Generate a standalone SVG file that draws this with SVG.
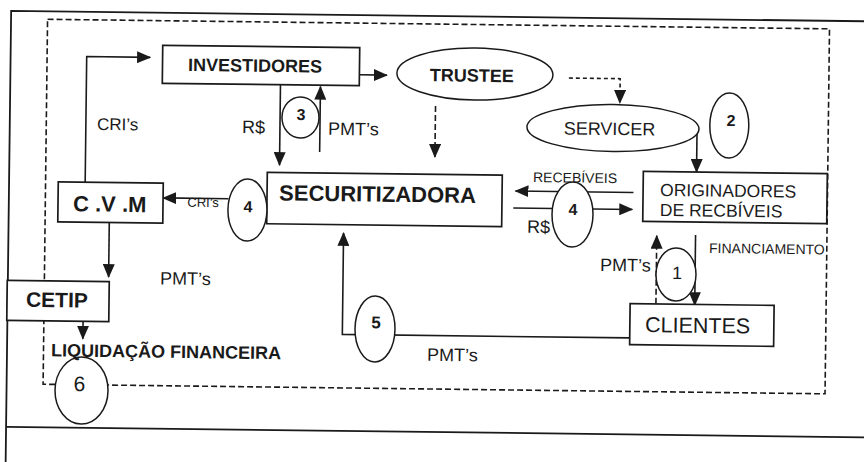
<svg xmlns="http://www.w3.org/2000/svg" width="864" height="462" viewBox="0 0 864 462">
<style>
text{font-family:"Liberation Sans",Arial,sans-serif;fill:#1a1a1a}
.b{font-weight:bold}
.box{fill:#fff;stroke:#1a1a1a;stroke-width:1.7}
.ell{fill:#fff;stroke:#1a1a1a;stroke-width:1.5}
.ln{fill:none;stroke:#1a1a1a;stroke-width:1.6}
.dash{fill:none;stroke:#1a1a1a;stroke-width:1.6;stroke-dasharray:6 3}
.dsh2{fill:none;stroke:#1a1a1a;stroke-width:1.6;stroke-dasharray:4 3}
.frame{fill:none;stroke:#1a1a1a;stroke-width:1.8}
.arr{marker-end:url(#ah)}
.c{text-anchor:middle}
</style>
<defs>
<marker id="ah" viewBox="0 0 14 12" refX="13" refY="6" markerWidth="14" markerHeight="12" markerUnits="userSpaceOnUse" orient="auto"><path d="M0,0 L14,6 L0,12 z" fill="#1a1a1a"/></marker>
</defs>
<rect x="0" y="0" width="864" height="462" fill="#fff"/>
<g transform="rotate(0.7 432 231)">
<g id="frame">
<path class="frame" d="M890,16 H8.5 V470"/>
<path class="frame" d="M8.5,432 H890"/>
<rect class="dash" x="45" y="24" width="782" height="365"/>
</g>
<g id="connectors">
<path class="ln arr" d="M357.5,75.7 H385"/>
<path class="dash arr" d="M434,106 V157"/>
<path class="dsh2 arr" d="M567,76.4 H618.3 V100.7"/>
<path class="ln arr" d="M695.8,128.8 V168.8"/>
<path class="ln arr" d="M278.7,86.6 V167"/>
<path class="ln arr" d="M318.7,153.4 V88"/>
<path class="ln arr" d="M84.6,186.4 V60.8 H148"/>
<path class="ln arr" d="M228,201.2 H162.7"/>
<path class="ln arr" d="M633,190 H515"/>
<path class="ln arr" d="M513,207 H632"/>
<path class="ln arr" d="M109.2,226.4 V281"/>
<path class="ln arr" d="M84.2,325.6 V343"/>
<path class="ln arr" d="M631,335.5 H343.6 V234"/>
<path class="ln arr" d="M695.6,231.8 V302"/>
<path class="dash arr" d="M656.8,301 V233"/>
</g>
<g id="investidores"><rect class="box" x="160.5" y="48.6" width="197" height="38"/><text class="b c" x="253" y="73.9" font-size="18">INVESTIDORES</text></g>
<g id="trustee"><ellipse class="ell" cx="473" cy="73.5" rx="78" ry="26"/><text class="b c" x="470" y="81.2" font-size="18">TRUSTEE</text></g>
<g id="servicer"><ellipse class="ell" cx="611.7" cy="125.8" rx="86" ry="23.5"/><text class="c" x="608.3" y="132.8" font-size="18">SERVICER</text></g>
<g id="securitizadora"><rect class="box" x="266.6" y="174.3" width="235" height="51.5"/><text class="b c" x="377.1" y="202.3" font-size="22">SECURITIZADORA</text></g>
<g id="cvm"><rect class="box" x="57.7" y="186.4" width="105" height="40"/><text class="b" x="72.8" y="215.6" font-size="22">C .V .M</text></g>
<g id="originadores"><rect class="box" x="642.6" y="168.8" width="184" height="50"/><text x="659.6" y="193.1" font-size="17.5">ORIGINADORES</text><text x="659.6" y="213.1" font-size="17.5">DE RECBÍVEIS</text></g>
<g id="cetip"><rect class="box" x="7.9" y="285.6" width="102" height="40"/><text class="b" x="26.9" y="311.8" font-size="21">CETIP</text></g>
<g id="clientes"><rect class="box" x="631" y="301.2" width="144" height="41"/><text x="646.2" y="329.5" font-size="21.5">CLIENTES</text></g>
<g id="n1"><ellipse class="ell" cx="676.5" cy="271.5" rx="20" ry="26.5"/><text class="c" x="677.6" y="276.2" font-size="18">1</text></g>
<g id="n2"><ellipse class="ell" cx="728" cy="121.9" rx="19.5" ry="32.5"/><text class="b c" x="729.7" y="122.4" font-size="16">2</text></g>
<g id="n3"><ellipse class="ell" cx="299.1" cy="119.1" rx="18.5" ry="20.5"/><text class="b c" x="299.6" y="121.6" font-size="16">3</text></g>
<g id="n4a"><ellipse class="ell" cx="247.2" cy="212.3" rx="19.5" ry="31"/><text class="b c" x="247.8" y="214.6" font-size="16">4</text></g>
<g id="n4b"><ellipse class="ell" cx="572.3" cy="212.8" rx="20.5" ry="32.5"/><text class="b c" x="572.8" y="213.3" font-size="16">4</text></g>
<g id="n5"><ellipse class="ell" cx="376.2" cy="329.7" rx="20" ry="33"/><text class="b c" x="377.2" y="329" font-size="17">5</text></g>
<g id="n6"><ellipse class="ell" cx="83.5" cy="394.8" rx="26.5" ry="33.5"/><text class="c" x="81.4" y="395.3" font-size="21">6</text></g>
<g id="labels">
<text x="95.8" y="134" font-size="17">CRI’s</text>
<text x="240.8" y="135.3" font-size="18">R$</text>
<text x="326.8" y="136.1" font-size="18">PMT’s</text>
<text x="187" y="209.7" font-size="13">CRI’s</text>
<text x="532.4" y="180.8" font-size="14">RECEBÍVEIS</text>
<text x="527" y="231.7" font-size="18">R$</text>
<text x="160.7" y="287.8" font-size="18">PMT’s</text>
<text x="600.5" y="268.9" font-size="18">PMT’s</text>
<text x="709.3" y="249.6" font-size="14">FINANCIAMENTO</text>
<text x="428.6" y="360.8" font-size="18">PMT’s</text>
<text class="b" x="52.6" y="361" font-size="18">LIQUIDAÇÃO FINANCEIRA</text>
</g>
</g>
</svg>
